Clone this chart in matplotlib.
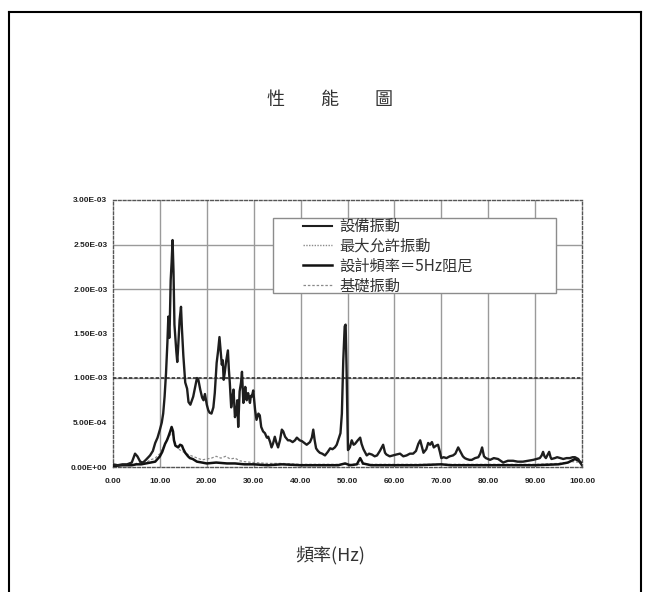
import matplotlib
matplotlib.use("Agg")
import matplotlib.pyplot as plt
from matplotlib.patches import Rectangle
from matplotlib.lines import Line2D

plt.rcParams['font.family'] = ['Noto Sans CJK TC', 'DejaVu Sans']

# ---------------- data ----------------
title_text = "性\u3000\u3000能\u3000\u3000圖"
xlabel_text = "頻率(Hz)"
series_names = ["設備振動", "最大允許振動", "設計頻率＝5Hz阻尼", "基礎振動"]

x_ticks = [0, 10, 20, 30, 40, 50, 60, 70, 80, 90, 100]
x_ticklabels = ["0.00", "10.00", "20.00", "30.00", "40.00", "50.00",
                "60.00", "70.00", "80.00", "90.00", "100.00"]
y_ticks = [0.0, 5e-4, 1e-3, 1.5e-3, 2e-3, 2.5e-3, 3e-3]
y_ticklabels = ["0.00E+00", "5.00E-04", "1.00E-03", "1.50E-03",
                "2.00E-03", "2.50E-03", "3.00E-03"]

# equipment vibration (values in 1E-3)
equip_f = [0.0, 1.0, 2.0, 3.0, 4.0, 4.7, 5.2, 5.8, 6.4, 7.0, 7.9, 8.5, 9.0, 9.5,
           10.0, 10.4, 10.7, 11.0, 11.3, 11.6, 11.8, 12.0, 12.1, 12.3, 12.5, 12.7,
           12.9, 13.1, 13.3, 13.5, 13.7, 13.9, 14.2, 14.5, 14.7, 15.0, 15.4, 15.8,
           16.1, 16.5, 17.1, 17.6, 17.9, 18.2, 18.6, 19.0, 19.3, 19.6, 20.0, 20.3,
           20.6, 21.0, 21.4, 21.7, 22.1, 22.4, 22.7, 23.0, 23.2, 23.4, 23.6, 23.8,
           24.1, 24.5, 24.7, 24.9, 25.2, 25.5, 25.7, 26.0, 26.3, 26.5, 26.7, 27.0,
           27.3, 27.5, 27.8, 28.0, 28.2, 28.5, 28.8, 29.0, 29.2, 29.4, 29.6, 29.9,
           30.1, 30.3, 30.6, 31.0, 31.3, 31.6, 32.0, 32.4, 32.8, 33.1, 33.5, 33.8,
           34.1, 34.5, 34.8, 35.2, 35.6, 36.0, 36.3, 36.7, 37.3, 37.7, 38.3, 38.8,
           39.2, 39.8, 40.3, 40.8, 41.3, 42.0, 42.4, 42.7, 43.0, 43.3, 43.7, 44.1,
           44.6, 45.2, 45.8, 46.3, 46.8, 47.3, 47.7, 48.0, 48.5, 48.8, 49.1, 49.4,
           49.6, 49.8, 50.1, 50.5, 50.9, 51.3, 51.6, 52.2, 52.7, 53.0, 53.4, 54.1,
           54.6, 55.2, 55.8, 56.3, 56.9, 57.3, 57.6, 58.0, 58.3, 59.0, 59.7, 60.4,
           61.2, 61.9, 62.6, 63.3, 64.0, 64.6, 65.1, 65.5, 65.9, 66.2, 66.8, 67.2,
           67.6, 68.0, 68.4, 68.9, 69.3, 69.7, 70.0, 70.5, 71.1, 71.8, 72.5, 73.0,
           73.6, 74.0, 74.6, 75.0, 75.4, 76.0, 76.5, 77.2, 77.9, 78.3, 78.7, 79.1,
           79.5, 80.4, 81.2, 82.1, 83.2, 84.2, 85.3, 86.3, 87.4, 88.5, 89.6, 90.3,
           91.0, 91.4, 91.7, 92.0, 92.3, 92.7, 93.0, 93.3, 93.5, 94.2, 94.7, 95.4,
           96.0, 96.7, 97.4, 98.0, 98.5, 99.2, 99.6, 100.0]
equip_v = [0.03, 0.02, 0.03, 0.03, 0.05, 0.15, 0.12, 0.06, 0.05, 0.08, 0.13, 0.18, 0.27, 0.33,
           0.42, 0.50, 0.60, 0.79, 1.05, 1.40, 1.69, 1.45, 1.60, 2.10, 2.30, 2.55,
           2.20, 1.60, 1.45, 1.30, 1.18, 1.35, 1.65, 1.80, 1.55, 1.25, 0.95, 0.88,
           0.73, 0.70, 0.79, 0.92, 1.00, 0.98, 0.87, 0.78, 0.75, 0.82, 0.70, 0.64,
           0.61, 0.60, 0.67, 0.83, 1.17, 1.30, 1.46, 1.28, 1.15, 1.20, 0.98, 1.05,
           1.18, 1.31, 1.10, 0.95, 0.67, 0.80, 0.87, 0.56, 0.62, 0.75, 0.45, 0.85,
           0.95, 1.07, 0.72, 0.80, 0.90, 0.75, 0.83, 0.78, 0.72, 0.80, 0.79, 0.86,
           0.75, 0.64, 0.53, 0.60, 0.58, 0.45, 0.40, 0.38, 0.33, 0.34, 0.28, 0.22,
           0.26, 0.34, 0.28, 0.22, 0.30, 0.42, 0.40, 0.34, 0.30, 0.30, 0.28, 0.30,
           0.33, 0.30, 0.29, 0.27, 0.25, 0.28, 0.33, 0.42, 0.30, 0.21, 0.18, 0.16,
           0.15, 0.13, 0.17, 0.21, 0.20, 0.22, 0.25, 0.30, 0.38, 0.60, 1.20, 1.58,
           1.60, 1.10, 0.19, 0.22, 0.30, 0.25, 0.26, 0.30, 0.33, 0.26, 0.20, 0.13,
           0.15, 0.14, 0.12, 0.13, 0.18, 0.22, 0.25, 0.16, 0.14, 0.12, 0.13, 0.14,
           0.15, 0.12, 0.13, 0.15, 0.15, 0.18, 0.26, 0.30, 0.22, 0.16, 0.20, 0.27,
           0.25, 0.28, 0.22, 0.24, 0.25, 0.17, 0.10, 0.11, 0.10, 0.12, 0.13, 0.15,
           0.22, 0.18, 0.12, 0.10, 0.09, 0.08, 0.08, 0.10, 0.11, 0.15, 0.22, 0.12,
           0.10, 0.08, 0.10, 0.09, 0.05, 0.07, 0.07, 0.06, 0.06, 0.07, 0.08, 0.09,
           0.10, 0.13, 0.17, 0.12, 0.10, 0.14, 0.17, 0.11, 0.09, 0.10, 0.11, 0.10,
           0.09, 0.10, 0.10, 0.11, 0.11, 0.09, 0.05, 0.02]

# max allowed vibration (1E-3)
allow_f = [0.0, 100.0]
allow_v = [1.0, 1.0]

# design frequency = 5Hz damping (1E-3)
damp_f = [0.0, 2.0, 4.0, 5.0, 6.0, 7.0, 8.0, 9.0, 10.0, 10.5, 11.1, 11.5, 11.8, 12.2,
          12.5, 12.8, 13.0, 13.3, 13.9, 14.3, 14.7, 15.0, 15.4, 16.0, 16.4, 17.0,
          17.9, 19.0, 20.0, 22.0, 24.3, 26.0, 28.0, 30.0, 33.0, 36.0, 40.0, 45.0,
          48.0, 49.5, 50.5, 52.0, 52.7, 53.3, 55.0, 60.0, 65.0, 70.0, 72.0, 75.0,
          80.0, 85.0, 90.0, 95.0, 97.0, 98.5, 99.3, 100.0]
damp_v = [0.01, 0.02, 0.02, 0.03, 0.03, 0.04, 0.05, 0.06, 0.12, 0.17, 0.26, 0.30, 0.34, 0.40,
          0.45, 0.40, 0.30, 0.24, 0.22, 0.25, 0.24, 0.20, 0.16, 0.12, 0.10, 0.09,
          0.06, 0.05, 0.04, 0.05, 0.04, 0.04, 0.03, 0.03, 0.02, 0.03, 0.02, 0.02,
          0.02, 0.04, 0.02, 0.03, 0.10, 0.04, 0.02, 0.02, 0.02, 0.03, 0.02, 0.02,
          0.02, 0.02, 0.02, 0.03, 0.05, 0.09, 0.07, 0.04]

# foundation vibration (1E-3)
found_f = [0.0, 3.0, 5.0, 6.0, 7.0, 8.0, 9.0, 10.0, 11.0, 12.0, 12.6, 13.2, 14.0, 15.0,
           16.0, 17.0, 18.0, 19.0, 20.0, 21.0, 22.0, 23.0, 24.0, 25.0, 26.0, 27.0,
           28.0, 30.0, 33.0, 36.0, 40.0, 45.0, 50.0, 55.0, 60.0, 70.0, 80.0, 90.0,
           95.0, 98.0, 100.0]
found_v = [0.02, 0.02, 0.04, 0.06, 0.05, 0.08, 0.10, 0.15, 0.25, 0.35, 0.38, 0.28, 0.20, 0.17,
           0.14, 0.12, 0.10, 0.08, 0.09, 0.10, 0.12, 0.10, 0.12, 0.09, 0.10, 0.07,
           0.06, 0.05, 0.04, 0.04, 0.03, 0.03, 0.03, 0.03, 0.03, 0.03, 0.03, 0.03,
           0.04, 0.06, 0.05]

UNIT = 1e-3

# ---------------- figure ----------------
W, H = 651, 592
fig = plt.figure(figsize=(W / 100, H / 100), dpi=100)
fig.patch.set_facecolor("white")

ax_l, ax_r, ax_t, ax_b = 113, 582, 200, 467
ax = fig.add_axes([ax_l / W, 1 - ax_b / H, (ax_r - ax_l) / W, (ax_b - ax_t) / H])

# grid lines
for gx in x_ticks[1:-1]:
    ax.axvline(gx, color="#9a9a9a", lw=1.0, zorder=1)
for gy in [2.5e-3, 2.0e-3, 1.0e-3]:
    ax.axhline(gy, color="#9a9a9a", lw=1.0, zorder=1)

ax.plot(found_f, [v * UNIT for v in found_v], color="#8a8a8a", lw=0.9,
        ls=(0, (2, 1.5)), zorder=2, label=series_names[3])
ax.plot(damp_f, [v * UNIT for v in damp_v], color="#111111", lw=1.8,
        zorder=3, label=series_names[2])
ax.plot(allow_f, [v * UNIT for v in allow_v], color="#333333", lw=1.2,
        ls=(0, (2, 1.2)), zorder=3, label=series_names[1])
ax.plot(equip_f, [v * UNIT for v in equip_v], color="#1e1e1e", lw=1.7,
        zorder=4, label=series_names[0])

ax.set_xlim(0, 100)
ax.set_ylim(0, 3e-3)
ax.set_xticks(x_ticks)
ax.set_xticklabels(x_ticklabels)
ax.set_yticks(y_ticks)
ax.set_yticklabels(y_ticklabels)
ax.tick_params(length=0, labelsize=6, pad=4, labelcolor="#222222")
ax.tick_params(axis="x", pad=8)
for lab in ax.get_xticklabels() + ax.get_yticklabels():
    lab.set_family("Liberation Sans")
    lab.set_fontweight("bold")
for sp in ax.spines.values():
    sp.set_color("#555555")
    sp.set_linewidth(1.0)
    sp.set_linestyle((0, (2, 1.5)))

# legend box + legend
box = Rectangle((273 / W, 1 - 293 / H), (556 - 273) / W, (293 - 218) / H,
                transform=fig.transFigure, facecolor="white", edgecolor="#8c8c8c",
                lw=1.0, zorder=10, clip_on=False)
ax.add_patch(box)
handles = [
    Line2D([], [], color="#1e1e1e", lw=1.5),
    Line2D([], [], color="#8a8a8a", lw=1.0, ls=(0, (1, 1))),
    Line2D([], [], color="#111111", lw=1.8),
    Line2D([], [], color="#8a8a8a", lw=0.9, ls=(0, (2, 1.5))),
]
leg = ax.legend(handles, series_names, loc="upper left",
                bbox_to_anchor=(303 / W, 1 - 218 / H), bbox_transform=fig.transFigure,
                frameon=False, fontsize=11, borderpad=0, borderaxespad=0,
                handlelength=1.9, handletextpad=0.5, labelspacing=0.18)
leg.set_zorder(11)
for t in leg.get_texts():
    t.set_color("#333333")

# title and x label
fig.text(330 / W, 1 - 100 / H, title_text, ha="center", va="center",
         fontsize=13, color="#333333")
fig.text(330 / W, 1 - 555 / H, xlabel_text, ha="center", va="center",
         fontsize=13, color="#333333")

# outer frame
frame_kw = dict(transform=fig.transFigure, color="black", lw=1.5)
fig.add_artist(Line2D([9 / W, 9 / W], [0, 1 - 12 / H], **frame_kw))
fig.add_artist(Line2D([641 / W, 641 / W], [0, 1 - 12 / H], **frame_kw))
fig.add_artist(Line2D([9 / W, 641 / W], [1 - 12 / H, 1 - 12 / H], **frame_kw))

fig.savefig("out.png", dpi=100, facecolor="white")
